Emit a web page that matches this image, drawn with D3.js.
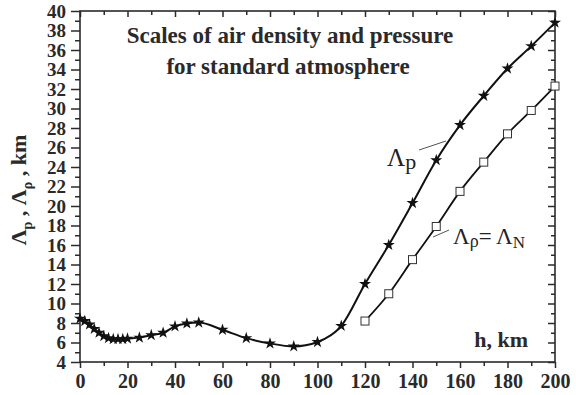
<!DOCTYPE html>
<html><head><meta charset="utf-8">
<script src="https://cdn.jsdelivr.net/npm/d3@7"></script>
<style>body{margin:0;background:#fff}svg{display:block}</style>
</head><body><div id="chart"></div>
<script>
const hP = [0,2,4,6,8,10,12,14,16,18,20,25,30,35,40,45,50,60,70,80,90,100,110,120,130,140,150,160,170,180,190,200];
const lambdaP = [8.45,8.2,7.85,7.4,7.0,6.65,6.45,6.35,6.35,6.35,6.4,6.5,6.75,7.0,7.65,7.95,8.05,7.3,6.45,5.9,5.6,6.05,7.7,12.0,16.0,20.3,24.7,28.3,31.3,34.1,36.4,38.8];
const hRho = [120,130,140,150,160,170,180,190,200];
const lambdaRho = [8.2,11.0,14.5,17.9,21.5,24.5,27.4,29.8,32.3];
const xTicks = [0,20,40,60,80,100,120,140,160,180,200];
const yTicks = [4,6,8,10,12,14,16,18,20,22,24,26,28,30,32,34,36,38,40];

const W = 576, H = 395;
const m = {left:80, right:21, top:11, bottom:33};
const svg = d3.select("#chart").append("svg").attr("width",W).attr("height",H);
const x = d3.scaleLinear().domain([0,200]).range([m.left, W-m.right]);
const y = d3.scaleLinear().domain([4,40]).range([H-m.bottom, m.top]);
const serif = "'Liberation Serif','Times New Roman',serif";
const col = "#2a2a2a";

const xMinor = d3.range(10,200,20), yMinor = d3.range(5,40,2);
function styleAxis(g){ g.select(".domain").remove(); g.selectAll("line").attr("stroke",col).attr("stroke-width",1.5); g.selectAll("text").attr("font-family",serif).attr("font-weight","bold").attr("font-size",19).attr("fill",col); }
svg.append("g").attr("transform",`translate(0,${y(4)})`).call(d3.axisBottom(x).tickValues(xTicks).tickSize(6).tickPadding(6)).call(styleAxis).selectAll("text").attr("font-size",20);
svg.append("g").attr("transform",`translate(0,${y(4)})`).call(d3.axisBottom(x).tickValues(xMinor).tickSize(4).tickFormat("")).call(styleAxis);
svg.append("g").attr("transform",`translate(${x(0)},0)`).call(d3.axisLeft(y).tickValues(yTicks).tickSize(9).tickPadding(5)).call(styleAxis);
svg.append("g").attr("transform",`translate(${x(0)},0)`).call(d3.axisLeft(y).tickValues(yMinor).tickSize(5).tickFormat("")).call(styleAxis);
svg.append("g").attr("transform",`translate(0,${y(40)})`).call(d3.axisBottom(x).tickValues(xTicks).tickSize(6).tickFormat("")).call(styleAxis);
svg.append("g").attr("transform",`translate(0,${y(40)})`).call(d3.axisBottom(x).tickValues(xMinor).tickSize(4).tickFormat("")).call(styleAxis);
svg.append("g").attr("transform",`translate(${x(200)},0)`).call(d3.axisLeft(y).tickValues(yTicks).tickSize(7).tickFormat("")).call(styleAxis);
svg.append("g").attr("transform",`translate(${x(200)},0)`).call(d3.axisLeft(y).tickValues(yMinor).tickSize(4).tickFormat("")).call(styleAxis);
svg.append("rect").attr("x",x(0)).attr("y",y(40)).attr("width",x(200)-x(0)).attr("height",y(4)-y(40)).attr("fill","none").attr("stroke",col).attr("stroke-width",1.6);

const line = d3.line().curve(d3.curveMonotoneX);
svg.append("path").attr("d",line(hP.map((h,i)=>[x(h),y(lambdaP[i])]))).attr("fill","none").attr("stroke","#111").attr("stroke-width",2);
svg.append("path").attr("d",line(hRho.map((h,i)=>[x(h),y(lambdaRho[i])]))).attr("fill","none").attr("stroke","#111").attr("stroke-width",1.8);

const star = d3.symbol().type(d3.symbolStar).size(45);
svg.append("g").selectAll("path").data(hP).join("path").attr("d",star).attr("transform",(h,i)=>`translate(${x(h)},${y(lambdaP[i])})`).attr("fill","#111");
svg.append("g").selectAll("rect").data(hRho).join("rect").attr("x",(h)=>x(h)-4).attr("y",(h,i)=>y(lambdaRho[i])-4).attr("width",8).attr("height",8).attr("fill","#fff").attr("stroke","#333").attr("stroke-width",1);

// title
const t = svg.append("text").attr("font-family",serif).attr("font-weight","bold").attr("font-size",23).attr("fill",col).attr("text-anchor","middle");
t.append("tspan").attr("x",290).attr("y",43).text("Scales of air density and pressure");
t.append("tspan").attr("x",288).attr("y",74).text("for standard atmosphere");

// h, km
svg.append("text").attr("x",528).attr("y",347).attr("text-anchor","end").attr("font-family",serif).attr("font-weight","bold").attr("font-size",22).attr("fill",col).text("h, km");

// y label
const yl = svg.append("text").attr("transform",`translate(26,190) rotate(-90)`).attr("text-anchor","middle").attr("font-family",serif).attr("font-weight","bold").attr("font-size",22).attr("fill",col);
yl.append("tspan").text("Λ");
yl.append("tspan").attr("font-size",14).attr("dy",6).text("p");
yl.append("tspan").attr("dy",-6).text(" , Λ");
yl.append("tspan").attr("font-size",14).attr("dy",6).text("ρ");
yl.append("tspan").attr("dy",-6).text(" , km");

// curve labels
const l1 = svg.append("text").attr("x",387).attr("y",166).attr("font-family",serif).attr("font-size",25).attr("fill","#222");
l1.append("tspan").text("Λ");
l1.append("tspan").attr("font-size",22).attr("dy",3).text("p");
svg.append("line").attr("x1",419).attr("y1",150).attr("x2",446).attr("y2",141).attr("stroke","#555").attr("stroke-width",1);

const l2 = svg.append("text").attr("x",453).attr("y",244).attr("font-family",serif).attr("font-size",23).attr("fill","#222");
l2.append("tspan").text("Λ");
l2.append("tspan").attr("font-size",18).attr("dy",3).text("ρ");
l2.append("tspan").attr("dy",-3).text("= Λ");
l2.append("tspan").attr("font-size",17).attr("dy",4).text("N");
svg.append("line").attr("x1",433).attr("y1",237).attr("x2",449).attr("y2",230).attr("stroke","#555").attr("stroke-width",1);
</script></body></html>
